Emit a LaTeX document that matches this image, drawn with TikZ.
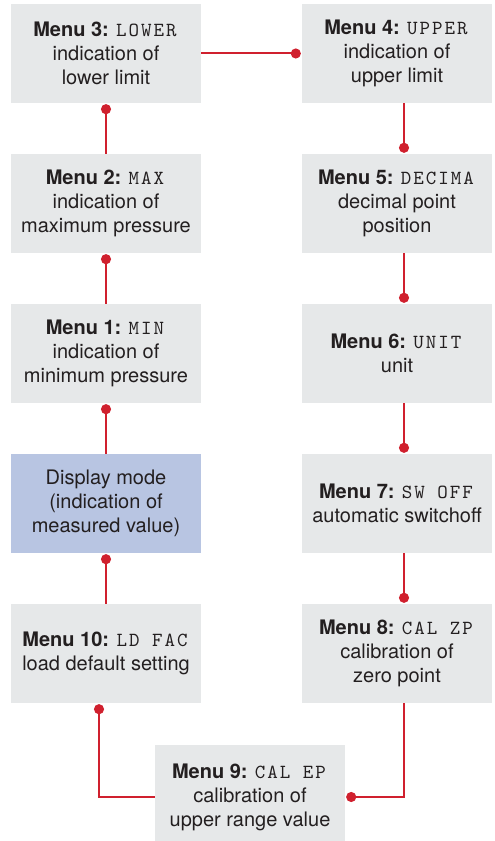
\documentclass[tikz,border=0pt]{standalone}
\usepackage{fontspec}
\setmainfont{TeX Gyre Heros}
\setmonofont{lmmono10-regular.otf}[LetterSpace=10]
\usetikzlibrary{positioning, arrows.meta}

\definecolor{boxgray}{HTML}{E6E8E9}
\definecolor{modeblue}{HTML}{B8C5E2}
\definecolor{linkred}{HTML}{D0202E}
\definecolor{textdark}{HTML}{231F20}

\tikzset{
  menubox/.style={fill=boxgray, text=textdark, minimum width=190bp, minimum height=99bp,
    align=center, inner sep=0pt, font=\fontsize{20bp}{24bp}\selectfont},
  modebox/.style={menubox, fill=modeblue},
  link/.style={draw=linkred, line width=2bp, -{Circle[length=10bp]}, shorten >=1bp},
}
\newcommand{\menuname}[2]{\textbf{Menu #1:} \texttt{#2}}

\begin{document}
\begin{tikzpicture}[x=1bp, y=1bp]
    \useasboundingbox (0,0) rectangle (495,841);

    % left column
    \node[menubox] (m3) at (106,787.5) {\menuname{3}{LOWER}\\indication of\\lower limit};
    \node[menubox] (m2) at (106,637.5) {\menuname{2}{MAX}\\indication of\\maximum pressure};
    \node[menubox] (m1) at (106,487.5) {\menuname{1}{MIN}\\indication of\\minimum pressure};
    \node[modebox] (disp) at (106,337.5) {Display mode\\(indication of\\measured value)};
    \node[menubox] (m10) at (106,187.5) {\menuname{10}{LD FAC}\\load default setting};

    % right column
    \node[menubox] (m4) at (397,787.5) {\menuname{4}{UPPER}\\indication of\\upper limit};
    \node[menubox] (m5) at (397,637.5) {\menuname{5}{DECIMA}\\decimal point\\position};
    \node[menubox] (m6) at (397,487.5) {\menuname{6}{UNIT}\\unit};
    \node[menubox] (m7) at (397,337.5) {\menuname{7}{SW OFF}\\automatic switchoff};
    \node[menubox] (m8) at (397,187.5) {\menuname{8}{CAL ZP}\\calibration of\\zero point};

    % bottom
    \node[menubox, minimum height=104bp] (m9) at (250,44) {\menuname{9}{CAL EP}\\calibration of\\upper range value};

    % menu cycle
    \draw[link] (disp) -- (m1);
    \draw[link] (m1) -- (m2);
    \draw[link] (m2) -- (m3);
    \draw[link] (m3) -- (m4);
    \draw[link] ([xshift=7bp]m4.south) -- ([xshift=7bp]m5.north);
    \draw[link] ([xshift=7bp]m5.south) -- ([xshift=7bp]m6.north);
    \draw[link] ([xshift=7bp]m6.south) -- ([xshift=7bp]m7.north);
    \draw[link] ([xshift=7bp]m7.south) -- ([xshift=7bp]m8.north);
    \draw[link] ([xshift=7bp]m8.south) |- (m9.east);
    \draw[link] (m9.west) -| ([xshift=-7bp]m10.south);
    \draw[link] (m10) -- (disp);

\end{tikzpicture}
\end{document}
